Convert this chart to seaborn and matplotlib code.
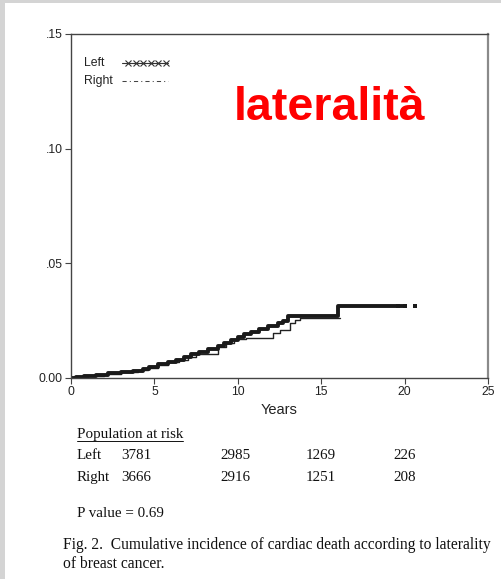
import numpy as np
import pandas as pd
import matplotlib
matplotlib.use("Agg")
import matplotlib.pyplot as plt
from matplotlib.lines import Line2D
from matplotlib.patches import Rectangle
import seaborn as sns

# ---- data ----
left_t = [0, 0.3, 0.8, 1.5, 2.2, 3.0, 3.7, 4.3, 4.7, 5.2, 5.8, 6.3, 6.8, 7.2, 7.7,
          8.2, 8.8, 9.2, 9.6, 10.0, 10.4, 10.8, 11.3, 11.8, 12.4, 12.7, 13.0, 16.0, 19.9]
left_v = [0, 0.0005, 0.001, 0.0015, 0.002, 0.0025, 0.003, 0.004, 0.005, 0.006, 0.0068,
          0.0078, 0.009, 0.0105, 0.0115, 0.0125, 0.014, 0.0152, 0.0165, 0.0178, 0.019,
          0.0202, 0.0215, 0.0225, 0.0238, 0.025, 0.027, 0.0315, 0.0315]
left_censor_t = [19.6, 20.0, 20.6]
left_censor_v = [0.0315, 0.0315, 0.0315]

right_t = [0, 0.3, 1.0, 2.0, 3.0, 4.0, 4.6, 5.2, 5.8, 6.5, 7.0, 7.5, 8.8, 9.3, 9.8,
           10.5, 12.1, 12.5, 13.1, 13.4, 13.7, 16.1]
right_v = [0, 0.0005, 0.001, 0.0018, 0.0025, 0.0033, 0.0045, 0.0058, 0.0068, 0.008,
           0.0092, 0.0103, 0.0135, 0.0152, 0.0168, 0.0173, 0.0195, 0.0209, 0.0238,
           0.0253, 0.0262, 0.0262]

x_ticks = [0, 5, 10, 15, 20, 25]
y_ticks = [0.0, 0.05, 0.10, 0.15]
y_ticklabels = ["0.00", ".05", ".10", ".15"]

risk_groups = ["Left", "Right"]
risk_left = ["3781", "2985", "1269", "226"]
risk_right = ["3666", "2916", "1251", "208"]

df_left = pd.DataFrame({"Years": left_t, "inc": left_v})
df_right = pd.DataFrame({"Years": right_t, "inc": right_v})
df_cens = pd.DataFrame({"Years": left_censor_t, "inc": left_censor_v})

# ---- figure ----
sns.set_style("white")
plt.rcParams["font.family"] = ["Liberation Sans", "DejaVu Sans"]

W, H = 502, 579
fig = plt.figure(figsize=(W / 100, H / 100), dpi=100)
fig.patch.set_facecolor("white")
fig.patches.append(Rectangle((0, 1 - 3 / H), 1, 3 / H, transform=fig.transFigure,
                             facecolor="#d4d4d4", edgecolor="none", zorder=0))
fig.patches.append(Rectangle((0, 0), 5 / W, 1, transform=fig.transFigure,
                             facecolor="#d4d4d4", edgecolor="none", zorder=0))

ax = fig.add_axes([71 / W, 1 - 378 / H, (488 - 71) / W, (378 - 34) / H])

sns.lineplot(data=df_right, x="Years", y="inc", ax=ax, color="#222222", linewidth=1.0,
             drawstyle="steps-post", estimator=None, sort=False)
sns.lineplot(data=df_left, x="Years", y="inc", ax=ax, color="#1a1a1a", linewidth=2.8,
             drawstyle="steps-post", estimator=None, sort=False)
sns.scatterplot(data=df_cens, x="Years", y="inc", ax=ax, color="#1a1a1a", marker="s",
                s=8, linewidth=0)

ax.set_xlim(0, 25)
ax.set_ylim(0, 0.15)
ax.set_xticks(x_ticks)
ax.set_xticklabels([str(v) for v in x_ticks])
ax.set_yticks(y_ticks)
ax.set_yticklabels(y_ticklabels)
ax.tick_params(axis="both", direction="out", length=4, width=0.8, colors="#444444",
               labelsize=8.8, labelcolor="#222222", left=True, bottom=True, pad=2)
ax.set_xlabel("Years", fontsize=10.5, color="#222222", labelpad=3)
ax.set_ylabel("")
for side in ["left", "bottom", "top"]:
    ax.spines[side].set_color("#444444")
    ax.spines[side].set_linewidth(1.0)
ax.spines["right"].set_color("#8a8a8a")
ax.spines["right"].set_linewidth(1.6)

# ---- legend (text first, then line sample) ----
def px(x, y):
    return x / W, 1 - y / H

for lab, yy in zip(risk_groups, [63, 81]):
    fig.text(*px(84, yy), lab, fontsize=8.8, color="#222222", va="center", ha="left")
x0, x1 = 122 / W, 168 / W
y_l = 1 - 63 / H
fig.lines.append(Line2D([x0, x1], [y_l, y_l], transform=fig.transFigure,
                        color="#333333", lw=0.8))
fig.lines.append(Line2D(np.linspace(x0 + 6 / W, x1 - 2 / W, 6), [y_l] * 6,
                        transform=fig.transFigure, color="#333333", lw=0,
                        marker="x", markersize=5, markeredgewidth=0.8))
y_r = 1 - 81 / H
fig.lines.append(Line2D([x0, x1], [y_r, y_r], transform=fig.transFigure,
                        color="#444444", lw=0.75, linestyle=(0, (4, 3, 1, 3))))

fig.text(*px(330, 108), "lateralità", color="#ff0000", fontsize=33.5,
         fontweight="bold", ha="center", va="center")

# ---- population at risk table ----
serif = ["Liberation Serif", "DejaVu Serif"]
def ft(x, y, s, **kw):
    fig.text(*px(x, y), s, family=serif, color="#111111", va="baseline", **kw)

ft(77, 438, "Population at risk", fontsize=10.8)
fig.lines.append(Line2D([77 / W, 183 / W], [1 - 441 / H, 1 - 441 / H],
                        transform=fig.transFigure, color="#111111", lw=0.7))
col_x = [121, 220, 306, 393]
ft(77, 459, risk_groups[0], fontsize=10.8)
ft(77, 481, risk_groups[1], fontsize=10.8)
for cx, a, b in zip(col_x, risk_left, risk_right):
    ft(cx, 459, a, fontsize=10.8)
    ft(cx, 481, b, fontsize=10.8)
ft(77, 517, "P value = 0.69", fontsize=10.8)
ft(63, 549, "Fig. 2.  Cumulative incidence of cardiac death according to laterality",
   fontsize=11.2)
ft(63, 568, "of breast cancer.", fontsize=11.2)

fig.savefig("out.png", dpi=100)
